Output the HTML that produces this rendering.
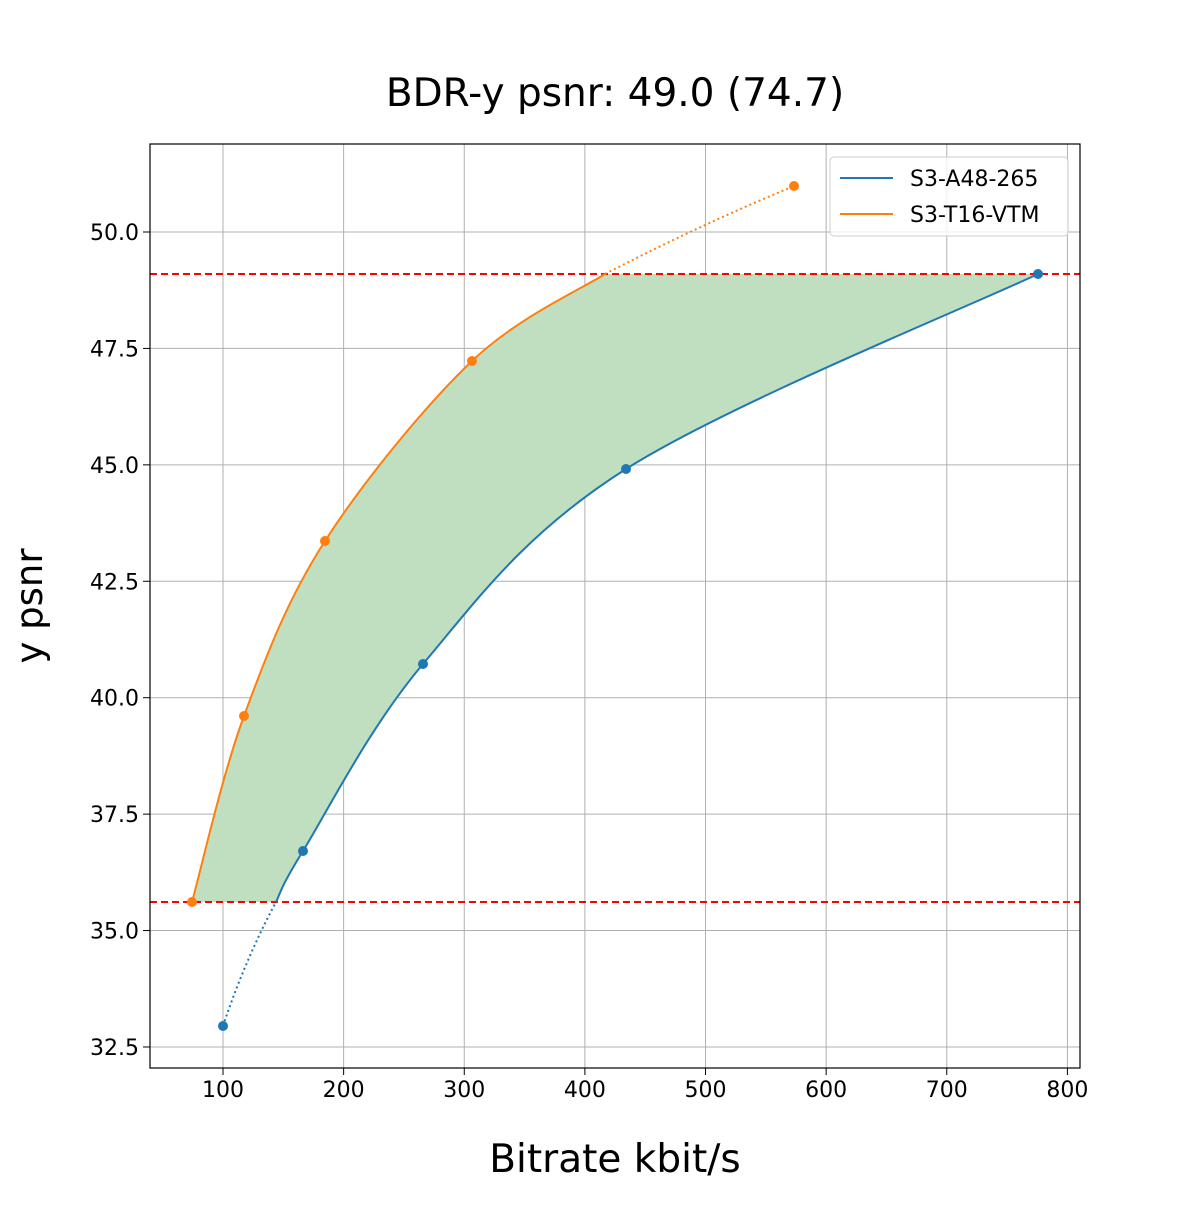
<!DOCTYPE html>
<html><head><meta charset="utf-8"><style>
body{margin:0;background:#fff;}
text{font-family:"DejaVu Sans","Liberation Sans",sans-serif;}
</style></head><body>
<svg id="s" width="1200" height="1200" xmlns="http://www.w3.org/2000/svg">
<rect width="1200" height="1200" fill="#fff"/>
<g id="grid" stroke="#b0b0b0" stroke-width="1"></g>
<path id="fill" fill="rgb(192,223,192)" stroke="none"/>
<line x1="150" x2="1080" y1="274" y2="274" stroke="#ff0000" stroke-width="2" stroke-dasharray="7,4"/>
<line x1="150" x2="1080" y1="902" y2="902" stroke="#ff0000" stroke-width="2" stroke-dasharray="7,4"/>
<path id="bd" fill="none" stroke="#1f77b4" stroke-width="2" stroke-dasharray="2,3"/>
<path id="bs" fill="none" stroke="#1f77b4" stroke-width="2"/>
<path id="od" fill="none" stroke="#ff7f0e" stroke-width="2" stroke-dasharray="2,3"/>
<path id="os" fill="none" stroke="#ff7f0e" stroke-width="2"/>
<g fill="#1f77b4"><circle cx="223" cy="1026" r="5"/><circle cx="303" cy="851" r="5"/><circle cx="423" cy="664" r="5"/><circle cx="626" cy="469" r="5"/><circle cx="1038" cy="274" r="5"/></g>
<g fill="#ff7f0e"><circle cx="192" cy="902" r="5"/><circle cx="244" cy="716" r="5"/><circle cx="325" cy="541" r="5"/><circle cx="472" cy="361" r="5"/><circle cx="794" cy="186" r="5"/></g>
<rect x="150" y="144" width="930" height="924" fill="none" stroke="#000" stroke-width="1.2"/>
<g id="ticks" font-size="22" fill="#000"></g>
<text x="615" y="106" font-size="39" text-anchor="middle">BDR-y psnr: 49.0 (74.7)</text>
<text x="615" y="1172" font-size="39" text-anchor="middle">Bitrate kbit/s</text>
<text transform="translate(42,606) rotate(-90)" font-size="37" text-anchor="middle">y psnr</text>
<rect x="830" y="157" width="238" height="79" rx="4" fill="#fff" fill-opacity="0.8" stroke="#ccc"/>
<line x1="840" x2="893" y1="178" y2="178" stroke="#1f77b4" stroke-width="2"/>
<line x1="840" x2="893" y1="214" y2="214" stroke="#ff7f0e" stroke-width="2"/>
<text x="910" y="186" font-size="22">S3-A48-265</text>
<text x="910" y="222" font-size="22">S3-T16-VTM</text>
</svg>
<script>
function cr(p){let d="M"+p[0][0]+","+p[0][1];for(let i=0;i<p.length-1;i++){const a=p[Math.max(i-1,0)],b=p[i],c=p[i+1],e=p[Math.min(i+2,p.length-1)];d+=" C"+(b[0]+(c[0]-a[0])/6)+","+(b[1]+(c[1]-a[1])/6)+" "+(c[0]-(e[0]-b[0])/6)+","+(c[1]-(e[1]-b[1])/6)+" "+c[0]+","+c[1];}return d;}
const blue=[[276,902],[303,851],[423,664],[626,469],[1038,274]];
const orng=[[192,902],[244,716],[325,541],[472,361],[605,274]];
document.getElementById('bs').setAttribute('d',cr(blue));
document.getElementById('os').setAttribute('d',cr(orng));
document.getElementById('bd').setAttribute('d',"M223,1026 Q245,960 276,902");
document.getElementById('od').setAttribute('d',"M605,274 Q700,225 794,186");
const br=blue.slice().reverse();
document.getElementById('fill').setAttribute('d',cr(orng)+" L1038,274 "+cr(br).replace(/^M/,"L")+" Z");
const g=document.getElementById('grid'),t=document.getElementById('ticks');let h="",tt="";
for(let v=100;v<=800;v+=100){const x=223+(v-100)*1.2063;h+=`<line x1="${x}" x2="${x}" y1="144" y2="1068"/>`;tt+=`<line x1="${x}" x2="${x}" y1="1068" y2="1075" stroke="#000"/><text x="${x}" y="1097" text-anchor="middle">${v}</text>`;}
const ys=[50,47.5,45,42.5,40,37.5,35,32.5];
for(const v of ys){const y=232+(50-v)*46.57;h+=`<line x1="150" x2="1080" y1="${y}" y2="${y}"/>`;tt+=`<line x1="143" x2="150" y1="${y}" y2="${y}" stroke="#000"/><text x="139" y="${y+8}" text-anchor="end">${v.toFixed(1)}</text>`;}
g.innerHTML=h;t.innerHTML=tt;
</script>
</body></html>
